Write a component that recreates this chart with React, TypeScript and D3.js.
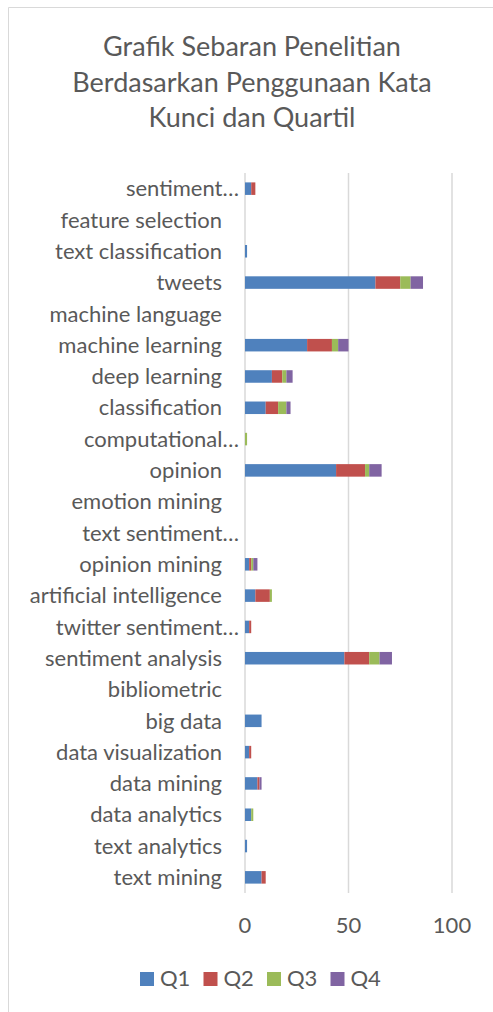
import React from 'react';
import * as d3 from 'd3';

const categories = [
  'sentiment…', 'feature selection', 'text classification', 'tweets', 'machine language',
  'machine learning', 'deep learning', 'classification', 'computational…', 'opinion',
  'emotion mining', 'text sentiment…', 'opinion mining', 'artificial intelligence',
  'twitter sentiment…', 'sentiment analysis', 'bibliometric', 'big data',
  'data visualization', 'data mining', 'data analytics', 'text analytics', 'text mining',
];

const q1 = [3, 0, 1, 63, 0, 30, 13, 10, 0, 44, 0, 0, 2, 5, 2, 48, 0, 8, 2, 6, 3, 1, 8];
const q2 = [2, 0, 0, 12, 0, 12, 5, 6, 0, 14, 0, 0, 1, 7, 1, 12, 0, 0, 1, 1, 0, 0, 2];
const q3 = [0, 0, 0, 5, 0, 3, 2, 4, 1, 2, 0, 0, 1, 1, 0, 5, 0, 0, 0, 0, 1, 0, 0];
const q4 = [0, 0, 0, 6, 0, 5, 3, 2, 0, 6, 0, 0, 2, 0, 0, 6, 0, 0, 0, 1, 0, 0, 0];

const seriesNames = ['Q1', 'Q2', 'Q3', 'Q4'];
const seriesColors = ['#4F81BD', '#C0504D', '#9BBB59', '#8064A2'];
const xTicks = [0, 50, 100];
const titleLines = ['Grafik Sebaran Penelitian', 'Berdasarkan Penggunaan Kata', 'Kunci dan Quartil'];

const W = 493;
const H = 1012;
const FONT = 'Lato, "Open Sans", sans-serif';
const TEXT = '#595959';

export default function App() {
  const rows = categories.map((c, i) => ({ cat: c, Q1: q1[i], Q2: q2[i], Q3: q3[i], Q4: q4[i] }));
  const stacked = d3.stack<any>().keys(seriesNames)(rows);

  const x = d3.scaleLinear().domain([0, 100]).range([245, 452]);
  const y = d3.scaleBand().domain(categories).range([173, 893]).paddingInner(0.6).paddingOuter(0.3);

  return (
    <div style={{ position: 'absolute', left: 0, top: 0 }}>
      <svg width={W} height={H} style={{ display: 'block', fontFamily: FONT }}>
        <rect width={W} height={H} fill="#fff" />
        {/* chart frame (cut off on the right and bottom) */}
        <line x1={8.5} y1={7.5} x2={W + 2} y2={7.5} stroke="#d9d9d9" strokeWidth={1} />
        <line x1={8.5} y1={7.5} x2={8.5} y2={H + 2} stroke="#d9d9d9" strokeWidth={1} />

        {titleLines.map((t, i) => (
          <text key={t} x={252} y={56 + i * 35.5} textAnchor="middle" fill={TEXT} fontSize={27}>
            {t}
          </text>
        ))}

        {xTicks.map(t => (
          <line key={t} x1={x(t)} x2={x(t)} y1={173} y2={893} stroke="#d9d9d9" strokeWidth={1.5} />
        ))}

        {stacked.map((s, si) => (
          <g key={s.key} fill={seriesColors[si]}>
            {s.map((d: any, i: number) =>
              d[1] - d[0] > 0 ? (
                <rect
                  key={i}
                  x={x(d[0])}
                  y={y(d.data.cat)}
                  width={x(d[1]) - x(d[0])}
                  height={y.bandwidth()}
                />
              ) : null
            )}
          </g>
        ))}

        {categories.map(c => (
          <text
            key={c}
            x={c.endsWith('…') ? 239 : 222}
            y={(y(c) as number) + y.bandwidth() / 2}
            dy="0.35em"
            textAnchor="end"
            fill={TEXT}
            fontSize={22}
          >
            {c}
          </text>
        ))}

        {xTicks.map(t => (
          <text key={t} x={x(t)} y={933} textAnchor="middle" fill={TEXT} fontSize={22}>
            {t}
          </text>
        ))}

        {seriesNames.map((n, i) => (
          <g key={n} transform={`translate(${140 + i * 63.5},972)`}>
            <rect width={14} height={14} fill={seriesColors[i]} />
            <text x={20} y={14} fill={TEXT} fontSize={22}>
              {n}
            </text>
          </g>
        ))}
      </svg>
    </div>
  );
}
